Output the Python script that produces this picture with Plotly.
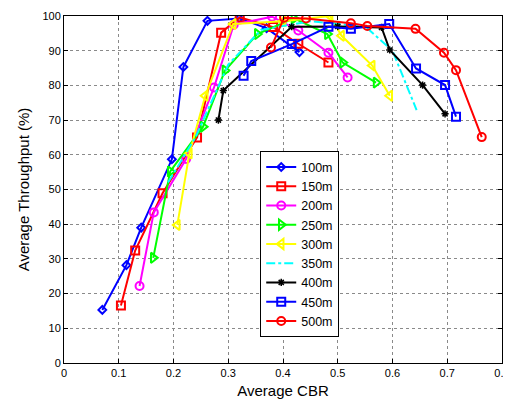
import plotly.graph_objects as go

names = ["100m", "150m", "200m", "250m", "300m", "350m", "400m", "450m", "500m"]

x_100 = [0.070, 0.114, 0.141, 0.197, 0.218, 0.262, 0.320, 0.370, 0.430]
y_100 = [15.3, 28.2, 39.0, 58.7, 85.3, 98.6, 99.3, 96.5, 89.6]

x_150 = [0.104, 0.130, 0.180, 0.243, 0.287, 0.321, 0.382, 0.428, 0.483]
y_150 = [16.6, 32.4, 48.9, 65.0, 95.2, 99.6, 96.8, 92.0, 86.6]

x_200 = [0.138, 0.164, 0.223, 0.274, 0.310, 0.380, 0.428, 0.483, 0.518]
y_200 = [22.2, 43.4, 58.8, 79.4, 97.5, 99.8, 95.8, 89.4, 82.3]

x_250 = [0.163, 0.194, 0.254, 0.294, 0.353, 0.420, 0.481, 0.509, 0.570]
y_250 = [30.3, 55.2, 68.1, 84.3, 94.8, 99.3, 94.8, 86.6, 80.8]

x_300 = [0.207, 0.229, 0.258, 0.309, 0.400, 0.486, 0.507, 0.563, 0.595]
y_300 = [39.8, 60.4, 77.0, 97.7, 98.5, 100.0, 94.3, 85.7, 77.0]

x_350 = [0.190, 0.240, 0.300, 0.360, 0.450, 0.550, 0.600, 0.644]
y_350 = [52.0, 65.0, 86.0, 96.0, 98.5, 97.0, 90.0, 72.9]

x_400 = [0.282, 0.291, 0.416, 0.500, 0.580, 0.595, 0.655, 0.696]
y_400 = [70.0, 78.5, 96.9, 97.0, 96.7, 90.2, 80.1, 71.8]

x_450 = [0.328, 0.342, 0.416, 0.483, 0.524, 0.594, 0.643, 0.696, 0.716]
y_450 = [82.8, 87.0, 91.9, 96.9, 96.3, 97.7, 84.9, 80.1, 71.0]

x_500 = [0.378, 0.402, 0.442, 0.524, 0.554, 0.642, 0.694, 0.716, 0.763]
y_500 = [90.9, 99.5, 99.3, 97.9, 97.1, 96.3, 89.4, 84.4, 65.1]

x_ticks = [0, 0.1, 0.2, 0.3, 0.4, 0.5, 0.6, 0.7, 0.8]
x_tick_labels = ["0", "0.1", "0.2", "0.3", "0.4", "0.5", "0.6", "0.7", "0.8"]
y_ticks = [0, 10, 20, 30, 40, 50, 60, 70, 80, 90, 100]

series = [
    (x_100, y_100, "#0000FF", "diamond-open", 6, "solid"),
    (x_150, y_150, "#FF0000", "square-open", 8, "solid"),
    (x_200, y_200, "#FF00FF", "circle-open", 8, "solid"),
    (x_250, y_250, "#00FF00", "triangle-right-open", 9, "solid"),
    (x_300, y_300, "#FFFF00", "triangle-left-open", 9, "solid"),
    (x_350, y_350, "#00FFFF", None, 0, "dashdot"),
    (x_400, y_400, "#000000", "asterisk-open", 6, "solid"),
    (x_450, y_450, "#0000FF", "square-open", 8, "solid"),
    (x_500, y_500, "#FF0000", "circle-open", 8, "solid"),
]

fig = go.Figure()
for name, (xs, ys, col, sym, sz, dash) in zip(names, series):
    if sym is None:
        fig.add_trace(go.Scatter(x=xs, y=ys, name=name, mode="lines",
                                 line=dict(color=col, width=2, dash=dash)))
    else:
        fig.add_trace(go.Scatter(x=xs, y=ys, name=name, mode="lines+markers",
                                 line=dict(color=col, width=2, dash=dash),
                                 marker=dict(symbol=sym, size=sz, color=col,
                                             line=dict(color=col, width=1.5 if sym.startswith("asterisk") else 2))))

axis_common = dict(showline=True, linecolor="black", linewidth=1, mirror="ticks",
                   ticks="inside", ticklen=4, tickcolor="black",
                   showgrid=True, gridcolor="#8a8a8a", griddash="dot", gridwidth=1,
                   zeroline=False, automargin=False,
                   tickfont=dict(family="Liberation Sans, Arial", size=11, color="black"))

fig.update_layout(
    width=503, height=395,
    margin=dict(l=56, r=9, t=8, b=40),
    paper_bgcolor="white", plot_bgcolor="white",
    font=dict(family="Liberation Sans, Arial", color="black"),
    xaxis=dict(range=[0, 0.8], tickvals=x_ticks, ticktext=x_tick_labels,
               title=dict(text="Average CBR", font=dict(size=15), standoff=7),
               **axis_common),
    yaxis=dict(range=[0, 100], tickvals=y_ticks,
               title=dict(text="Average Throughput (%)", font=dict(size=15), standoff=9),
               **axis_common),
    legend=dict(x=0.448, y=0.61, xanchor="left", yanchor="top",
                bgcolor="white", bordercolor="black", borderwidth=1,
                font=dict(size=12.5, family="Liberation Sans, Arial"),
                tracegroupgap=0, itemwidth=30),
    showlegend=True,
)

fig.write_html("out.html")
